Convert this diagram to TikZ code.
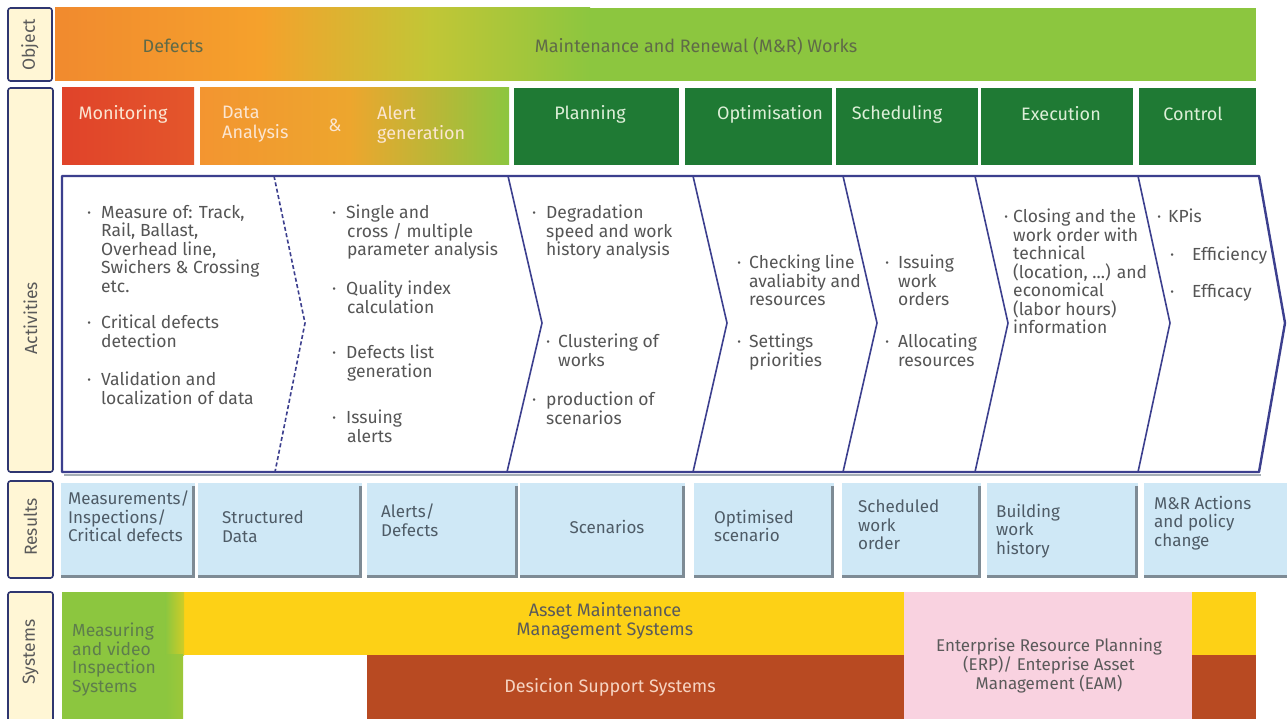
\documentclass[tikz,border=0pt]{standalone}
\usepackage{fontspec}
\setmainfont{Fira Sans}
\definecolor{navy}{HTML}{2F3670}
\definecolor{chevc}{HTML}{3C3F8E}
\definecolor{cream}{HTML}{FFF6D5}
\definecolor{labtxt}{HTML}{5A5A5A}
\definecolor{acttxt}{HTML}{555555}
\definecolor{restxt}{HTML}{4E5B66}
\definecolor{resfill}{HTML}{CFE8F6}
\definecolor{resshadow}{HTML}{7E8B95}
\definecolor{dkgreen}{HTML}{1F7A34}
\definecolor{ltgreen}{HTML}{8CC63F}
\definecolor{orng}{HTML}{F18A2E}
\definecolor{orng2}{HTML}{F5A12C}
\definecolor{ygreen}{HTML}{C2C636}
\definecolor{dorng}{HTML}{F39530}
\definecolor{dorng2}{HTML}{EDA62E}
\definecolor{redor}{HTML}{E0432A}
\definecolor{redor2}{HTML}{E4562B}
\definecolor{yell}{HTML}{FDD116}
\definecolor{brwn}{HTML}{B84A22}
\definecolor{pnk}{HTML}{F9D2E0}
\definecolor{objtxt}{HTML}{5F6A48}
\definecolor{phtxt}{HTML}{DDEFD8}
\definecolor{phtxtw}{HTML}{FBE6D2}
\definecolor{grtxt}{HTML}{5E7D4C}
\definecolor{brtxt}{HTML}{F6D3C1}
\begin{document}
\begin{tikzpicture}[x=1pt,y=-1pt,
  lbl/.style={draw=navy, fill=cream, line width=1.6pt, rounded corners=2.5pt, inner sep=0pt},
  lbltxt/.style={rotate=90, text=labtxt, font=\fontsize{17.5}{19}\selectfont, inner sep=0pt},
  phase/.style={text=phtxt, font=\fontsize{18}{20}\selectfont, inner sep=0pt},
  phasel/.style={phase, anchor=north west, align=left},
  act/.style={anchor=north west, align=left, text=acttxt, font=\fontsize{17.5}{18.5}\selectfont, inner sep=0pt},
  res/.style={anchor=north west, align=left, text=restxt, font=\fontsize{17}{18.5}\selectfont, inner sep=0pt},
  sys/.style={align=center, font=\fontsize{18}{19.5}\selectfont, inner sep=0pt},
  chev/.style={draw=chevc, line width=1.6pt, line join=round}
]
\useasboundingbox (0,0) rectangle (1287,719);
\fill[white] (0,0) rectangle (1287,719);

% ---------- left labels ----------
\node[lbl, minimum width=44, minimum height=73] (lobj) at (30,44.5) {};
\node[lbltxt] (tobj) at (30,45) {Object};
\node[lbl, minimum width=45, minimum height=384] (lact) at (30.5,280) {};
\node[lbltxt] (tact) at (30.5,318) {Activities};
\node[lbl, minimum width=45, minimum height=97] (lres) at (30.5,529.5) {};
\node[lbltxt] (tres) at (30.5,527) {Results};
\node[lbl, minimum width=45, minimum height=133] (lsys) at (30.5,658.5) {};
\node[lbltxt] (tsys) at (30.5,652) {Systems};

% ---------- object bar ----------
\fill[ltgreen] (55,8) rectangle (1256,81);
\begin{scope}
\clip (55,8) rectangle (1256,81);
\shade[left color=orng, right color=orng2] (55,8) rectangle (260,81);
\shade[left color=orng2, right color=ygreen] (259.5,8) rectangle (430,81);
\shade[left color=ygreen, right color=ltgreen] (429.5,8) rectangle (590,81);
\end{scope}
\node[font=\fontsize{18}{20}\selectfont, text=objtxt, inner sep=0pt] (odef) at (173,46) {Defects};
\node[font=\fontsize{18}{20}\selectfont, text=objtxt, inner sep=0pt] (omr) at (696,46) {Maintenance and Renewal (M\&R) Works};

% ---------- phase boxes ----------
\shade[left color=redor, right color=redor2] (62,88) rectangle (194,165);
\begin{scope}
\clip (200,88) rectangle (509,165);
\shade[left color=dorng, right color=dorng2] (200,88) rectangle (350,165);
\shade[left color=dorng2, right color=ltgreen] (349.5,88) rectangle (509,165);
\end{scope}
\fill[dkgreen] (514,88) rectangle (679,165);
\fill[dkgreen] (685,88) rectangle (832,165);
\fill[dkgreen] (836,88) rectangle (978,165);
\fill[dkgreen] (981,88) rectangle (1133,165);
\fill[dkgreen] (1139,88) rectangle (1256,165);
\node[phase, text=phtxtw] (pmon) at (123,114) {Monitoring};
\node[phasel, text=phtxtw] (pdat) at (222,106) {Data\\Analysis};
\node[phase, text=phtxtw] (pamp) at (335,125) {\&};
\node[phasel, text=phtxtw] (palt) at (377,106) {Alert\\generation};
\node[phase] (ppla) at (590,114) {Planning};
\node[phase] (popt) at (770,114) {Optimisation};
\node[phase] (psch) at (897,114) {Scheduling};
\node[phase] (pexe) at (1061,114) {Execution};
\node[phase] (pcon) at (1193,114) {Control};

% ---------- activities chevrons ----------
\draw[resshadow!70, line width=2pt] (64,474.5) -- (1261,474.5);
\draw[chev, line width=2.4pt] (62,176) -- (1259,176) -- (1285,323) -- (1259,472) -- (62,472) -- cycle;
\draw[chev, dashed, dash pattern=on 4pt off 2.5pt] (274,176) -- (305,323) -- (275,472);
\draw[chev] (508,176) -- (542,323) -- (507,472);
\draw[chev] (693,176) -- (727,323) -- (693,472);
\draw[chev] (843,176) -- (877,323) -- (843,472);
\draw[chev] (975,176) -- (1008,323) -- (975,472);
\draw[chev] (1138,176) -- (1170,323) -- (1138,472);

% column 1
\node[act] (a11) at (87,205) {\makebox[14pt][l]{·}Measure of: Track,\\\hspace*{14pt}Rail, Ballast,\\\hspace*{14pt}Overhead line,\\\hspace*{14pt}Swichers \& Crossing\\\hspace*{14pt}etc.};
\node[act] (a12) at (87,315) {\makebox[14pt][l]{·}Critical defects\\\hspace*{14pt}detection};
\node[act] (a13) at (87,372) {\makebox[14pt][l]{·}Validation and\\\hspace*{14pt}localization of data};
% column 2
\node[act] (a21) at (332,205) {\makebox[14pt][l]{·}Single and\\\hspace*{15pt}cross / multiple\\\hspace*{15pt}parameter analysis};
\node[act] (a22) at (332,281) {\makebox[14pt][l]{·}Quality index\\\hspace*{15pt}calculation};
\node[act] (a23) at (332,345) {\makebox[14pt][l]{·}Defects list\\\hspace*{15pt}generation};
\node[act] (a24) at (332,410) {\makebox[14pt][l]{·}Issuing\\\hspace*{15pt}alerts};
% column 3
\node[act] (a31) at (532,205) {\makebox[14pt][l]{·}Degradation\\\hspace*{14pt}speed and work\\\hspace*{14pt}history analysis};
\node[act] (a32) at (546,334) {\makebox[12pt][l]{·}Clustering of\\\hspace*{12pt}works};
\node[act] (a33) at (532,392) {\makebox[14pt][l]{·}production of\\\hspace*{14pt}scenarios};
% column 4
\node[act] (a41) at (737,255) {\makebox[12pt][l]{·}Checking line\\\hspace*{12pt}avaliabity and\\\hspace*{12pt}resources};
\node[act] (a42) at (737,334) {\makebox[12pt][l]{·}Settings\\\hspace*{12pt}priorities};
% column 5
\node[act] (a51) at (885,255) {\makebox[13pt][l]{·}Issuing\\\hspace*{13pt}work\\\hspace*{13pt}orders};
\node[act] (a52) at (885,334) {\makebox[13pt][l]{·}Allocating\\\hspace*{13pt}resources};
% column 6
\node[act] (a61) at (1004,209) {\makebox[9pt][l]{·}Closing and the\\\hspace*{9pt}work order with\\\hspace*{9pt}technical\\\hspace*{9pt}(location, ...) and\\\hspace*{9pt}economical\\\hspace*{9pt}(labor hours)\\\hspace*{9pt}information};
% column 7
\node[act] (a71) at (1157,209) {\makebox[11pt][l]{·}KPis};
\node[act] (a72) at (1170,247) {\makebox[22pt][l]{·}Efficiency};
\node[act] (a73) at (1170,284) {\makebox[22pt][l]{·}Efficacy};

% ---------- results ----------
\foreach \a/\b in {61/195, 198/362, 367/518, 520/685, 694/834, 842/981, 987/1138, 1144/1292} {
  \fill[resfill] (\a,483) rectangle (\b,578);
  \draw[resshadow, line width=3pt] (\b-1.5,486) -- (\b-1.5,576.5) -- (\a,576.5);
}
\node[res] (r1) at (68,491) {Measurements/\\Inspections/\\Critical defects};
\node[res] (r2) at (222,511) {Structured\\Data};
\node[res] (r3) at (381,504) {Alerts/\\Defects};
\node[res, anchor=center] (r4) at (607,527) {Scenarios};
\node[res] (r5) at (714,510) {Optimised\\scenario};
\node[res] (r6) at (858,500) {Scheduled\\work\\order};
\node[res] (r7) at (996,504) {Building\\work\\history};
\node[res] (r8) at (1154,496) {M\&R Actions\\and policy\\change};

% ---------- systems ----------
\fill[yell] (180,592) rectangle (904,655);
\fill[brwn] (367,654.5) rectangle (904,719);
\fill[pnk] (904,592) rectangle (1192,719);
\fill[yell] (1192,592) rectangle (1256,655);
\fill[brwn] (1192,654.5) rectangle (1256,719);
\fill[ltgreen] (62,592) rectangle (166,719);
\shade[left color=ltgreen, right color=ltgreen!40!yell] (165.5,592) rectangle (184,655);
\shade[left color=ltgreen, right color=ltgreen!85!yell] (165.5,654.5) rectangle (183,719);
\node[sys, align=left, anchor=north west, text=grtxt, font=\fontsize{17.5}{18.5}\selectfont] (s1) at (72,623) {Measuring\\and video\\Inspection\\Systems};
\node[sys, text=labtxt] (s2) at (605,621) {Asset Maintenance\\Management Systems};
\node[sys, text=brtxt] (s3) at (610,687) {Desicion Support Systems};
\node[sys, text=labtxt, font=\fontsize{17}{19}\selectfont] (s4) at (1049,666) {Enterprise Resource Planning\\(ERP)/ Enteprise Asset\\Management (EAM)};
\end{tikzpicture}
\end{document}
